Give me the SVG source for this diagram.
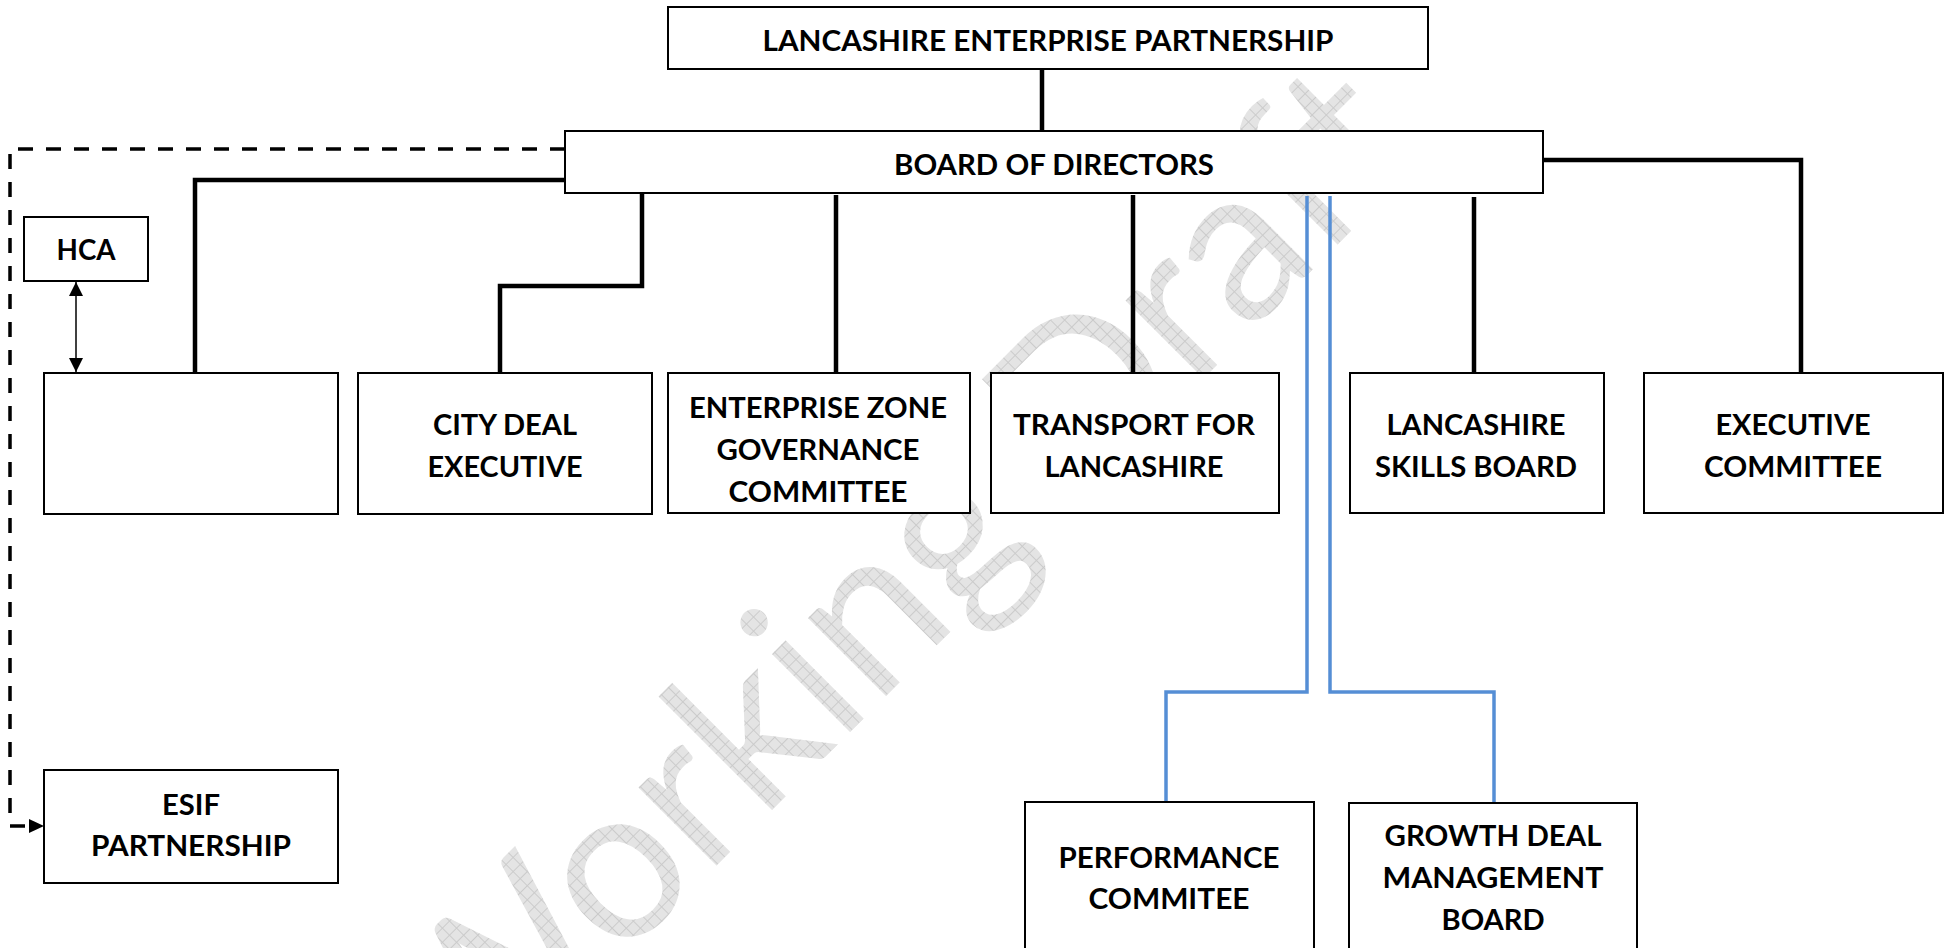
<svg xmlns="http://www.w3.org/2000/svg" width="1950" height="948" viewBox="0 0 1950 948">
  <defs>
    <pattern id="grid" width="10" height="10" patternUnits="userSpaceOnUse">
      <rect width="10" height="10" fill="#e4e4e4"/>
      <path d="M0 0.5H10M0.5 0V10" stroke="#cbcbcb" stroke-width="1"/>
    </pattern>
    <marker id="tri" viewBox="0 0 14 14" refX="14" refY="7" markerWidth="14" markerHeight="14" markerUnits="userSpaceOnUse" orient="auto-start-reverse">
      <path d="M0 0L14 7L0 14Z" fill="#000"/>
    </marker>
    <marker id="tri2" viewBox="0 0 15 14" refX="0" refY="7" markerWidth="15" markerHeight="14" markerUnits="userSpaceOnUse" orient="auto">
      <path d="M0 0L15 7L0 14Z" fill="#000"/>
    </marker>
    <style>
      .box { fill: #fff; stroke: #000; stroke-width: 2; }
      .lbl { font-family: Lato, "Liberation Sans", sans-serif; font-weight: 700; font-size: 29px; fill: #000; text-anchor: middle; }
      .blk { fill: none; stroke: #000; stroke-width: 4.5; }
      .blue { fill: none; stroke: #558ED5; stroke-width: 3.5; }
      .dash { fill: none; stroke: #000; stroke-width: 3.5; stroke-dasharray: 15 13; }
      .thin { fill: none; stroke: #000; stroke-width: 1.5; }
      .wm { font-family: Lato, "Liberation Sans", sans-serif; font-weight: 400; font-size: 218px; fill: url(#grid); }
    </style>
  </defs>
  <rect width="1950" height="948" fill="#fff"/>

  <text class="wm" transform="translate(470,1112) rotate(-45)" x="0" y="0" textLength="1352" lengthAdjust="spacingAndGlyphs">Working Draft</text>

  <g id="connectors">
    <path class="blk" d="M1042 69V131"/>
    <path class="blk" d="M565 180H195V374"/>
    <path class="blk" d="M642 194V286H500V374"/>
    <path class="blk" d="M836 195V375"/>
    <path class="blk" d="M1133 195V375"/>
    <path class="blk" d="M1474 197V375"/>
    <path class="blk" d="M1543 160H1801V374"/>
    <path class="blue" d="M1307 196V692H1166V802"/>
    <path class="blue" d="M1330 196V692H1494V803"/>
    <path class="dash" d="M565 149H10V826H29" marker-end="url(#tri2)"/>
    <path class="thin" d="M76 282V372" marker-start="url(#tri)" marker-end="url(#tri)"/>
  </g>

  <g id="lep">
    <rect class="box" x="668" y="7" width="760" height="62"/>
    <text class="lbl" x="1048" y="51" textLength="571" lengthAdjust="spacingAndGlyphs">LANCASHIRE ENTERPRISE PARTNERSHIP</text>
  </g>
  <g id="board">
    <rect class="box" x="565" y="131" width="978" height="62"/>
    <text class="lbl" x="1054" y="175" textLength="320" lengthAdjust="spacingAndGlyphs">BOARD OF DIRECTORS</text>
  </g>
  <g id="hca">
    <rect class="box" x="24" y="217" width="124" height="64"/>
    <text class="lbl" x="86" y="260" textLength="59" lengthAdjust="spacingAndGlyphs">HCA</text>
  </g>
  <g id="blank">
    <rect class="box" x="44" y="373" width="294" height="141"/>
  </g>
  <g id="city-deal">
    <rect class="box" x="358" y="373" width="294" height="141"/>
    <text class="lbl" x="505" y="435" textLength="144" lengthAdjust="spacingAndGlyphs">CITY DEAL</text>
    <text class="lbl" x="505" y="477" textLength="155" lengthAdjust="spacingAndGlyphs">EXECUTIVE</text>
  </g>
  <g id="enterprise-zone">
    <rect class="box" x="668" y="373" width="302" height="140"/>
    <text class="lbl" x="818" y="418" textLength="258" lengthAdjust="spacingAndGlyphs">ENTERPRISE ZONE</text>
    <text class="lbl" x="818" y="460" textLength="203" lengthAdjust="spacingAndGlyphs">GOVERNANCE</text>
    <text class="lbl" x="818" y="502" textLength="179" lengthAdjust="spacingAndGlyphs">COMMITTEE</text>
  </g>
  <g id="transport">
    <rect class="box" x="991" y="373" width="288" height="140"/>
    <text class="lbl" x="1134" y="435" textLength="242" lengthAdjust="spacingAndGlyphs">TRANSPORT FOR</text>
    <text class="lbl" x="1134" y="477" textLength="179" lengthAdjust="spacingAndGlyphs">LANCASHIRE</text>
  </g>
  <g id="skills">
    <rect class="box" x="1350" y="373" width="254" height="140"/>
    <text class="lbl" x="1476" y="435" textLength="179" lengthAdjust="spacingAndGlyphs">LANCASHIRE</text>
    <text class="lbl" x="1476" y="477" textLength="202" lengthAdjust="spacingAndGlyphs">SKILLS BOARD</text>
  </g>
  <g id="executive">
    <rect class="box" x="1644" y="373" width="299" height="140"/>
    <text class="lbl" x="1793" y="435" textLength="155" lengthAdjust="spacingAndGlyphs">EXECUTIVE</text>
    <text class="lbl" x="1793" y="477" textLength="178" lengthAdjust="spacingAndGlyphs">COMMITTEE</text>
  </g>
  <g id="esif">
    <rect class="box" x="44" y="770" width="294" height="113"/>
    <text class="lbl" x="191" y="815" textLength="58" lengthAdjust="spacingAndGlyphs">ESIF</text>
    <text class="lbl" x="191" y="856" textLength="200" lengthAdjust="spacingAndGlyphs">PARTNERSHIP</text>
  </g>
  <g id="performance">
    <rect class="box" x="1025" y="802" width="289" height="170"/>
    <text class="lbl" x="1169" y="868" textLength="221" lengthAdjust="spacingAndGlyphs">PERFORMANCE</text>
    <text class="lbl" x="1169" y="909" textLength="161" lengthAdjust="spacingAndGlyphs">COMMITEE</text>
  </g>
  <g id="growth-deal">
    <rect class="box" x="1349" y="803" width="288" height="170"/>
    <text class="lbl" x="1493" y="846" textLength="217" lengthAdjust="spacingAndGlyphs">GROWTH DEAL</text>
    <text class="lbl" x="1493" y="888" textLength="221" lengthAdjust="spacingAndGlyphs">MANAGEMENT</text>
    <text class="lbl" x="1493" y="930" textLength="103" lengthAdjust="spacingAndGlyphs">BOARD</text>
  </g>
</svg>
